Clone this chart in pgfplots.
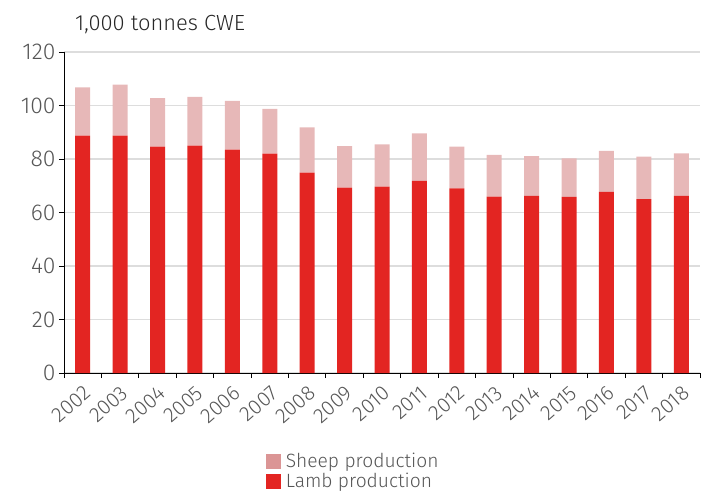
\documentclass[border=0pt]{standalone}
\usepackage{fontspec}
\setmainfont{Fira Sans Light}
\usepackage{pgfplots}
\pgfplotsset{compat=1.18}
\definecolor{lamb}{HTML}{E32522}
\definecolor{sheep}{HTML}{E7B8B8}
\definecolor{sheepleg}{HTML}{DB9595}
\definecolor{gridc}{HTML}{DDDDDD}
\definecolor{ticktext}{HTML}{555555}
\begin{document}
\begin{tikzpicture}
\begin{axis}[
  scale only axis, width=636bp, height=321bp,
  xmin=-0.5, xmax=16.5, ymin=0, ymax=120,
  ybar stacked, bar width=15bp,
  axis lines*=left,
  axis line style={black, line width=1pt},
  xtick={0,...,16},
  xticklabels={2002,2003,2004,2005,2006,2007,2008,2009,2010,2011,2012,2013,2014,2015,2016,2017,2018},
  major x tick style={draw=none},
  minor xtick={-0.5,0.5,...,16.5},
  minor x tick style={black, line width=0.8pt},
  minor tick length=5bp,
  x tick label style={rotate=41, anchor=north east, font=\fontsize{21}{21}\selectfont, text=ticktext, inner sep=0bp, yshift=-5bp, xshift=-4bp},
  ytick={0,20,...,120},
  y tick label style={font=\fontsize{23}{23}\selectfont, text=ticktext},
  /pgf/number format/assume math mode=true,
  major y tick style={black, line width=0.8pt},
  major tick length=5bp,
  tick align=outside,
  ymajorgrids, grid style={gridc, line width=1.2pt},
  legend style={at={(axis description cs:0.313,-0.24)}, anchor=north west, draw=none, fill=none,
    font=\fontsize{19.3}{19.3}\selectfont, text=ticktext, row sep=2bp,
    nodes={inner xsep=4.5bp, inner ysep=1bp}},
  legend cell align=left,
  reverse legend,
]
\addplot[fill=lamb, draw=none, legend image code/.code={\fill[lamb] (0bp,-7.5bp) rectangle (15bp,7.5bp);}] coordinates {
(0,88.7) (1,88.7) (2,84.6) (3,85.0) (4,83.5) (5,82.0) (6,74.9) (7,69.3) (8,69.7) (9,71.8) (10,69.0) (11,65.9) (12,66.2) (13,65.8) (14,67.7) (15,65.0) (16,66.2)};
\addplot[fill=sheep, draw=none, legend image code/.code={\fill[sheepleg] (0bp,-7.5bp) rectangle (15bp,7.5bp);}] coordinates {
(0,18.1) (1,19.1) (2,18.2) (3,18.2) (4,18.2) (5,16.7) (6,16.9) (7,15.5) (8,15.8) (9,17.8) (10,15.6) (11,15.6) (12,14.9) (13,14.4) (14,15.3) (15,15.9) (16,15.9)};
\legend{Lamb production, Sheep production}
\end{axis}
\node[anchor=base west, font=\fontsize{22}{22}\selectfont, text=black!85, inner sep=0pt] at ([xshift=11bp, yshift=21bp]current axis.north west) {1,000 tonnes CWE};
\pgfresetboundingbox
\path[use as bounding box] ([xshift=-64bp, yshift=-120bp]current axis.south west) rectangle ([xshift=8bp, yshift=52bp]current axis.north east);
\end{tikzpicture}
\end{document}
